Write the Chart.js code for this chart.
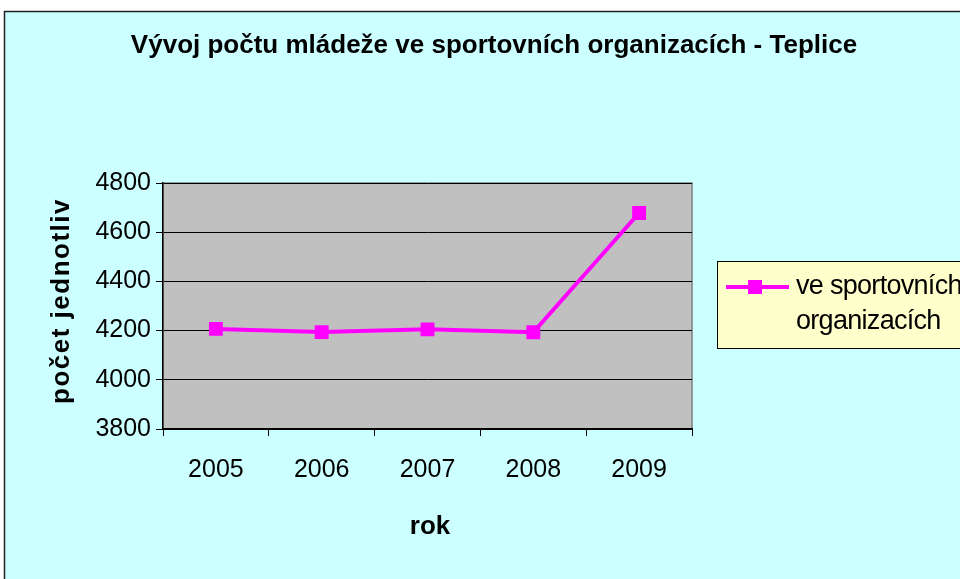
<!DOCTYPE html>
<html>
<head>
<meta charset="utf-8">
<script src="https://cdn.jsdelivr.net/npm/chart.js@4"></script>
<style>
  body { margin: 0; background: #fff; }
  #wrap { width: 960px; height: 579px; position: relative; }
</style>
</head>
<body>
<div id="wrap"><canvas id="canvas" width="960" height="579"></canvas></div>
<script>
const years = ['2005', '2006', '2007', '2008', '2009'];
const youthCounts = [4207, 4194, 4205, 4193, 4678];
const seriesLabel = ['ve sportovních', 'organizacích'];
const yTicks = [3800, 4000, 4200, 4400, 4600, 4800];
const chartTitle = 'Vývoj počtu mládeže ve sportovních organizacích - Teplice';
const yTitle = 'počet jednotliv';
const xTitle = 'rok';

const FONT = '"Liberation Sans", Arial, sans-serif';

// background, frame, plot area fill
const backdrop = {
  id: 'backdrop',
  beforeDraw(chart) {
    const c = chart.ctx, a = chart.chartArea;
    c.save();
    c.fillStyle = '#fff';
    c.fillRect(0, 0, chart.width, chart.height);
    c.fillStyle = '#ccffff';
    c.fillRect(4, 11, chart.width, chart.height);
    c.strokeStyle = '#222';
    c.lineWidth = 1.5;
    c.beginPath();
    c.moveTo(4.5, chart.height);
    c.lineTo(4.5, 11.5);
    c.lineTo(chart.width, 11.5);
    c.stroke();
    c.fillStyle = '#c0c0c0';
    c.fillRect(a.left, a.top, a.right - a.left, a.bottom - a.top);
    c.strokeStyle = '#808080';
    c.lineWidth = 1.5;
    c.strokeRect(a.left, a.top, a.right - a.left, a.bottom - a.top);
    c.restore();
  }
};

// titles and the boxed legend
const labels = {
  id: 'labels',
  afterDraw(chart) {
    const c = chart.ctx;
    c.save();
    c.fillStyle = '#000';
    c.textAlign = 'center';
    c.textBaseline = 'middle';
    c.font = 'bold 26px ' + FONT;
    c.letterSpacing = '0px';
    c.fillText(chartTitle, 494, 46);
    c.fillText(xTitle, 430, 527);

    // y title, cut off at the top like the original
    c.save();
    c.beginPath();
    c.rect(0, 194, 120, 300);
    c.clip();
    c.translate(62, 404);
    c.rotate(-Math.PI / 2);
    c.textAlign = 'left';
    c.letterSpacing = '1.5px';
    c.fillText(yTitle, 0, 0);
    c.restore();

    // legend
    c.fillStyle = '#ffffcc';
    c.fillRect(717, 261, 260, 87);
    c.strokeStyle = '#000';
    c.lineWidth = 1;
    c.strokeRect(717.5, 261.5, 260, 87);
    c.strokeStyle = '#ff00ff';
    c.lineWidth = 4;
    c.beginPath();
    c.moveTo(726, 287);
    c.lineTo(789, 287);
    c.stroke();
    c.fillStyle = '#ff00ff';
    c.fillRect(748, 280, 14, 14);
    c.fillStyle = '#000';
    c.textAlign = 'left';
    c.letterSpacing = '-0.7px';
    c.font = '27px ' + FONT;
    c.fillText(seriesLabel[0], 796, 287);
    c.fillText(seriesLabel[1], 796, 322);
    c.restore();
  }
};

new Chart(document.getElementById('canvas'), {
  type: 'line',
  data: {
    labels: years,
    datasets: [{
      label: seriesLabel.join(' '),
      data: youthCounts,
      borderColor: '#ff00ff',
      backgroundColor: '#ff00ff',
      borderWidth: 4,
      pointStyle: 'rect',
      pointRadius: 7,
      tension: 0
    }]
  },
  options: {
    responsive: false,
    animation: false,
    layout: { padding: { top: 183, right: 268, left: 0, bottom: 0 } },
    plugins: { legend: { display: false }, tooltip: { enabled: false } },
    scales: {
      x: {
        offset: true,
        afterFit(s) { s.height = 150; },
        grid: { offset: true, drawOnChartArea: false, color: '#000', tickLength: 7 },
        border: { color: '#000', width: 1.5 },
        ticks: { color: '#000', padding: 19, font: { family: FONT, size: 25 } }
      },
      y: {
        min: yTicks[0],
        max: yTicks[yTicks.length - 1],
        afterFit(s) { s.width = 163; },
        afterBuildTicks(s) { s.ticks = yTicks.map(v => ({ value: v })); },
        grid: { color: '#000', tickLength: 7 },
        border: { color: '#000', width: 1.5 },
        ticks: {
          color: '#000', padding: 5, font: { family: FONT, size: 25 },
          callback: v => String(v)
        }
      }
    }
  },
  plugins: [backdrop, labels]
});
</script>
</body>
</html>
